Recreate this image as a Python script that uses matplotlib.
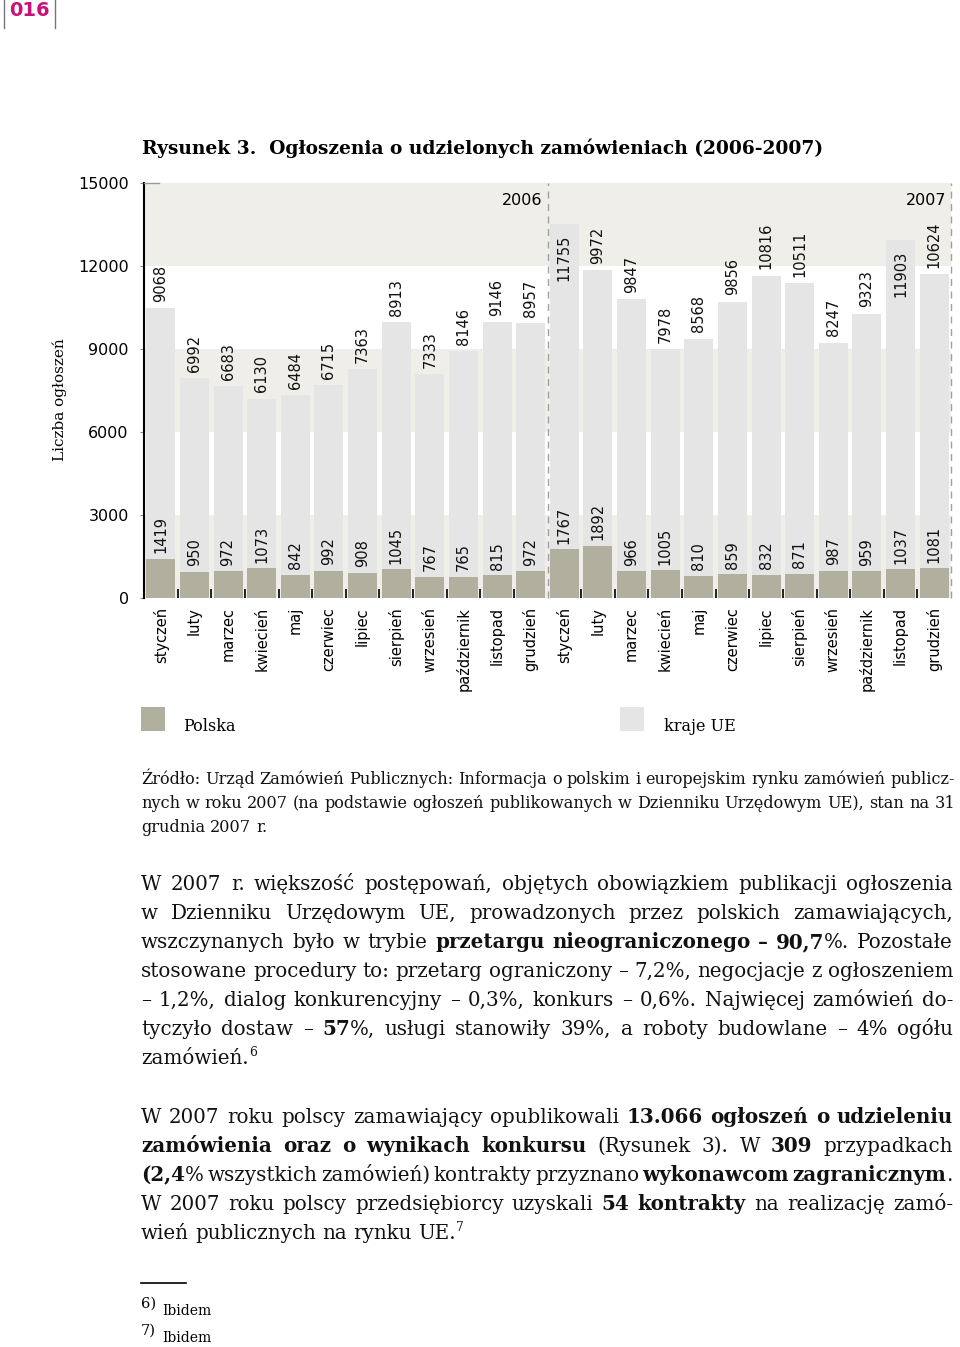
import matplotlib
matplotlib.use('Agg')
import matplotlib.pyplot as plt
import numpy as np
from matplotlib.lines import Line2D
from matplotlib.patches import Rectangle

# ---------------- data ----------------
months = ['styczeń', 'luty', 'marzec', 'kwiecień', 'maj', 'czerwiec', 'lipiec',
          'sierpień', 'wrzesień', 'październik', 'listopad', 'grudzień']
years = ['2006', '2007']
polska_2006 = [1419, 950, 972, 1073, 842, 992, 908, 1045, 767, 765, 815, 972]
ue_2006 = [9068, 6992, 6683, 6130, 6484, 6715, 7363, 8913, 7333, 8146, 9146, 8957]
polska_2007 = [1767, 1892, 966, 1005, 810, 859, 832, 871, 987, 959, 1037, 1081]
ue_2007 = [11755, 9972, 9847, 7978, 8568, 9856, 10816, 10511, 8247, 9323, 11903, 10624]
yticks = [0, 3000, 6000, 9000, 12000, 15000]

title = 'Rysunek 3.  Ogłoszenia o udzielonych zamówieniach (2006-2007)'
ylabel = 'Liczba ogłoszeń'
legend_labels = ['Polska', 'kraje UE']

source_lines = [
    'Źródło: Urząd Zamówień Publicznych: Informacja o polskim i europejskim rynku zamówień publicz-',
    'nych w roku 2007 (na podstawie ogłoszeń publikowanych w Dzienniku Urzędowym UE), stan na 31',
    'grudnia 2007 r.',
]
para1 = [
    'W 2007 r. większość postępowań, objętych obowiązkiem publikacji ogłoszenia',
    'w Dzienniku Urzędowym UE, prowadzonych przez polskich zamawiających,',
    'wszczynanych było w trybie *przetargu nieograniczonego – 90,7*%. Pozostałe',
    'stosowane procedury to: przetarg ograniczony – 7,2%, negocjacje z ogłoszeniem',
    '– 1,2%, dialog konkurencyjny – 0,3%, konkurs – 0,6%. Najwięcej zamówień do-',
    'tyczyło dostaw – *57*%, usługi stanowiły 39%, a roboty budowlane – 4% ogółu',
    'zamówień.^6',
]
para2 = [
    'W 2007 roku polscy zamawiający opublikowali *13.066 ogłoszeń o udzieleniu*',
    '*zamówienia oraz o wynikach konkursu* (Rysunek 3). W *309* przypadkach',
    '*(2,4*% wszystkich zamówień) kontrakty przyznano *wykonawcom zagranicznym*.',
    'W 2007 roku polscy przedsiębiorcy uzyskali *54 kontrakty* na realizację zamó-',
    'wień publicznych na rynku UE.^7',
]

# ---------------- style ----------------
W, H = 960, 1347
C_PL = '#b1b09f'
C_UE = '#e5e5e5'
C_BAND = '#efeee9'
SANS = 'DejaVu Sans'
SERIF = 'DejaVu Serif'

fig = plt.figure(figsize=(W / 100, H / 100), dpi=100)
fig.patch.set_facecolor('white')
renderer = fig.canvas.get_renderer()


def fx(x):
    return x / W


def fy(y):
    return 1 - y / H


def ftext(x, y, s, **kw):
    return fig.text(fx(x), fy(y), s, **kw)


# ---------------- chart ----------------
AX_L, AX_R, AX_T, AX_B = 144, 951, 183, 598
ax = fig.add_axes([fx(AX_L), fy(AX_B), (AX_R - AX_L) / W, (AX_B - AX_T) / H])
pol = polska_2006 + polska_2007
ue = ue_2006 + ue_2007
n = len(pol)
x = np.arange(n) + 0.5
ax.set_xlim(0, n)
ax.set_ylim(yticks[0], yticks[-1])
px_per_unit = (AX_B - AX_T) / (yticks[-1] - yticks[0])

for i in range(0, len(yticks) - 1, 2):
    ax.axhspan(yticks[i], yticks[i + 1], color=C_BAND, lw=0, zorder=0)

ax.bar(x, pol, width=0.86, color=C_PL, zorder=2)
ax.bar(x, ue, bottom=pol, width=0.86, color=C_UE, zorder=2)

LBL_PT = 10.5
for i in range(n):
    top = pol[i] + ue[i]
    lab = str(ue[i])
    lab_px = len(lab) * 0.636 * LBL_PT * 100 / 72 + 7
    if top * px_per_unit + lab_px > (yticks[-1] * px_per_unit) - 6:
        ax.annotate(lab, (x[i], top), xytext=(0, -8), textcoords='offset points',
                    rotation=90, ha='center', va='top', fontsize=LBL_PT,
                    family=SANS, color='#111111', zorder=4)
    else:
        ax.annotate(lab, (x[i], top), xytext=(0, 4.5), textcoords='offset points',
                    rotation=90, ha='center', va='bottom', fontsize=LBL_PT,
                    family=SANS, color='#111111', zorder=4)
    ax.annotate(str(pol[i]), (x[i], pol[i]), xytext=(0, 4),
                textcoords='offset points', rotation=90, ha='center', va='bottom',
                fontsize=LBL_PT, family=SANS, color='#111111', zorder=4)

# year separators
for k in (12, 24):
    ax.axvline(k, color='#a0a0a0', lw=1, ls=(0, (5, 4)), zorder=3, clip_on=False)
ax.text(11.85, 14380, years[0], ha='right', va='center', fontsize=11.5, family=SANS)
ax.text(23.85, 14380, years[1], ha='right', va='center', fontsize=11.5, family=SANS)

# axes styling
for s in ('top', 'right', 'bottom'):
    ax.spines[s].set_visible(False)
ax.spines['left'].set_linewidth(1.5)
ax.spines['left'].set_color('black')
ax.set_yticks(yticks)
ax.set_yticklabels([str(v) for v in yticks], fontsize=11.5, family=SANS)
ax.tick_params(axis='y', direction='out', length=3, color='#888888', pad=8)

bounds = [b for b in range(1, n) if b != 12]
ax.set_xticks(bounds)
ax.set_xticklabels([])
ax.tick_params(axis='x', which='major', direction='in', length=6.5, width=1.2,
               color='black')
ax.set_xticks(x, minor=True)
ax.set_xticklabels(months + months, minor=True, rotation=90, fontsize=10.5,
                   family=SANS, va='top')
ax.tick_params(axis='x', which='minor', length=0, pad=6.5)
ax.plot([0, 0.45], [yticks[-1], yticks[-1]], color='#999999', lw=1, clip_on=False,
        zorder=5)

ftext(60, 400, ylabel, rotation=90, ha='center', va='center', fontsize=11,
      family=SERIF)

# ---------------- header ----------------
ftext(29, 10, '016', ha='center', va='center', fontsize=14, fontweight='bold',
      family=SANS, color='#c8127a')
for xx in (4, 55):
    fig.add_artist(Line2D([fx(xx), fx(xx)], [fy(0), fy(28)], color='#777777', lw=1))

# ---------------- title (fit to width) ----------------
t = ftext(142, 154, title, ha='left', va='baseline', fontsize=14, fontweight='bold',
          family=SERIF)
w0 = t.get_window_extent(renderer).width
t.set_fontsize(14 * 681 / w0)

# ---------------- legend ----------------
for (sx, tx), col, lab in zip([(141, 183), (620, 664)], [C_PL, C_UE], legend_labels):
    fig.add_artist(Rectangle((fx(sx), fy(731)), 24 / W, 24 / H, transform=fig.transFigure,
                             color=col, lw=0))
    ftext(tx, 731, lab, ha='left', va='baseline', fontsize=11.5, family=SERIF)


# ---------------- justified text ----------------
def parse_line(line):
    words = []
    bold = False
    cur = []
    buf = ''
    sup = False

    def style():
        return 's' if sup else ('b' if bold else 'n')

    for ch in line:
        if ch == ' ':
            if buf:
                cur.append((buf, style()))
                buf = ''
            if cur:
                words.append(cur)
            cur = []
            sup = False
        elif ch == '*':
            if buf:
                cur.append((buf, style()))
                buf = ''
            bold = not bold
        elif ch == '^':
            if buf:
                cur.append((buf, style()))
                buf = ''
            sup = True
        else:
            buf += ch
    if buf:
        cur.append((buf, style()))
    if cur:
        words.append(cur)
    return words


def make_part(x, y, txt, st, size):
    s = size * 0.62 if st == 's' else size
    yy = y - size * 100 / 72 * 0.42 if st == 's' else y
    return ftext(x, yy, txt, ha='left', va='baseline', fontsize=s,
                 fontweight='bold' if st == 'b' else 'normal', family=SERIF,
                 color='#111111')


def part_width(txt, st, size):
    t = make_part(0, 0, txt, st, size)
    w = t.get_window_extent(renderer).width
    t.remove()
    return w


def space_width(size):
    return part_width('n n', 'n', size) - part_width('nn', 'n', size)


def draw_par(lines, x0, x1, baselines, size, min_gap=0.45):
    parsed = [parse_line(l) for l in lines]
    target = x1 - x0

    def widths(sz):
        return [[sum(part_width(p, st, sz) for p, st in w) for w in words]
                for words in parsed]

    ws = widths(size)
    sp = space_width(size)
    need = [sum(w) + min_gap * sp * (len(w) - 1) for w in ws]
    m = max(need)
    if m > target:
        size = size * target / m * 0.998
        ws = widths(size)
        sp = space_width(size)
    for li, (words, wl) in enumerate(zip(parsed, ws)):
        last = li == len(parsed) - 1
        if not last and len(words) > 1:
            gap = (target - sum(wl)) / (len(words) - 1)
        else:
            gap = sp
        xx = x0
        for word, ww in zip(words, wl):
            px = xx
            for p, st in word:
                make_part(px, baselines[li], p, st, size)
                px += part_width(p, st, size)
            xx += ww + gap


draw_par(source_lines, 141, 955, [784, 808, 832], 11.6)
draw_par(para1, 141, 953, [890 + 29 * k for k in range(7)], 14.3)
draw_par(para2, 141, 953, [1123 + 29 * k for k in range(5)], 14.3)

# ---------------- footnotes ----------------
fig.add_artist(Line2D([fx(141), fx(186)], [fy(1283), fy(1283)], color='black', lw=1.2))
for num, yb in [('6)', 1308), ('7)', 1335)]:
    ftext(141, yb, num, ha='left', va='baseline', fontsize=10.5, family=SERIF)
    ftext(162, yb + 7, 'Ibidem', ha='left', va='baseline', fontsize=10,
          family=SERIF)

fig.savefig('out.png', dpi=100, facecolor='white')
